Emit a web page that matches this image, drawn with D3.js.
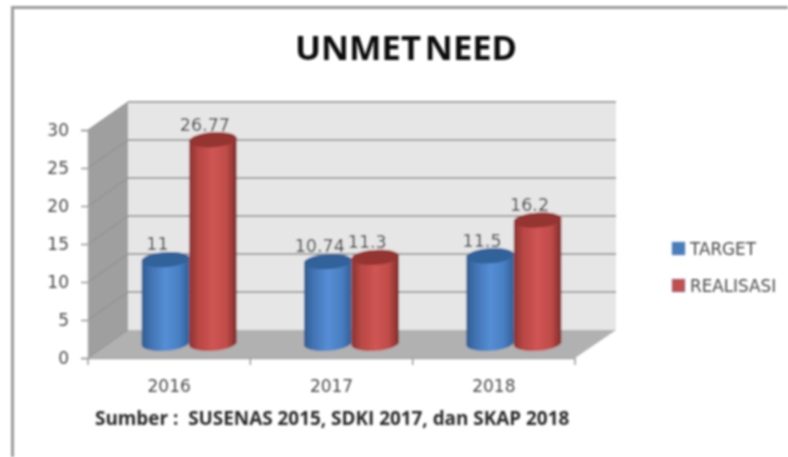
<!DOCTYPE html>
<html>
<head>
<meta charset="utf-8">
<title>UNMET NEED</title>
<script src="https://cdn.jsdelivr.net/npm/d3@7"></script>
<style>
  html, body { margin: 0; padding: 0; background: #fff; }
  svg { display: block; }
  text { font-family: "DejaVu Sans", sans-serif; }
</style>
</head>
<body>
<div id="chart"></div>
<script>
// data
const years = ["2016", "2017", "2018"];
const seriesNames = ["TARGET", "REALISASI"];
const target = [11, 10.74, 11.5];
const realisasi = [26.77, 11.3, 16.2];
const yTicks = [0, 5, 10, 15, 20, 25, 30];

const width = 788;
const height = 457;

// front plane of the 3d box, the back wall sits depth px right and up
const plot = { left: 88, right: 575, top: 130, bottom: 358 };
const depthX = 40;
const depthY = 28;

const svg = d3.select("#chart").append("svg")
  .attr("width", width)
  .attr("height", height);

const defs = svg.append("defs");

// the reference is a soft, upscaled picture (below 0.8 the browser applies no blur)
defs.append("filter").attr("id", "soft")
  .attr("x", "-5%").attr("y", "-5%").attr("width", "110%").attr("height", "110%")
  .append("feGaussianBlur").attr("stdDeviation", 0.8);

function cylinderGradient(id, stops) {
  const g = defs.append("linearGradient").attr("id", id);
  stops.forEach(s => g.append("stop").attr("offset", s[0]).attr("stop-color", s[1]));
}
cylinderGradient("blueBody", [[0, "#2f5c90"], [0.2, "#4273b3"], [0.5, "#558ed5"], [0.78, "#4a80c4"], [1, "#2f5f98"]]);
cylinderGradient("redBody", [[0, "#8a3230"], [0.2, "#b84744"], [0.5, "#cf5553"], [0.78, "#c04c49"], [1, "#7f2c2a"]]);

const topColor = { blue: "#32629a", red: "#953533" };
const seriesStyle = [
  { body: "url(#blueBody)", top: topColor.blue, swatch: "#4a7ebb" },
  { body: "url(#redBody)", top: topColor.red, swatch: "#c0504d" }
];

const root = svg.append("g").attr("filter", "url(#soft)");

// outer frame
root.append("path")
  .attr("d", "M12.5," + height + "V7.5H" + width)
  .attr("fill", "none")
  .attr("stroke", "#9c9c9c")
  .attr("stroke-width", 3);

const x = d3.scaleBand().domain(years).range([plot.left, plot.right]);
const xInner = d3.scaleBand().domain(seriesNames).range([0, x.step() * 0.585]);
const y = d3.scaleLinear().domain([0, 30]).range([plot.bottom, plot.top]);

// walls
root.append("polygon")
  .attr("points", [
    [plot.left + depthX, y(30) - depthY],
    [plot.right + depthX + 1, y(30) - depthY],
    [plot.right + depthX + 1, y(0) - depthY],
    [plot.left + depthX, y(0) - depthY]
  ].join(" "))
  .attr("fill", "#e6e6e6");

root.append("polygon")
  .attr("points", [
    [plot.left, y(30)],
    [plot.left + depthX, y(30) - depthY],
    [plot.left + depthX, y(0) - depthY],
    [plot.left, y(0)]
  ].join(" "))
  .attr("fill", "#9f9f9f");

root.append("polygon")
  .attr("points", [
    [plot.left, y(0)],
    [plot.right, y(0)],
    [plot.right + depthX + 1, y(0) - depthY],
    [plot.left + depthX, y(0) - depthY]
  ].join(" "))
  .attr("fill", "#b1b1b1");

// gridlines on back wall and left wall
root.selectAll(".grid").data(yTicks.slice(1)).join("line")
  .attr("class", "grid")
  .attr("x1", plot.left + depthX)
  .attr("x2", plot.right + depthX + 1)
  .attr("y1", d => y(d) - depthY)
  .attr("y2", d => y(d) - depthY)
  .attr("stroke", "#a0a0a0")
  .attr("stroke-width", 1.8);

root.selectAll(".gridSide").data(yTicks).join("line")
  .attr("class", "gridSide")
  .attr("x1", plot.left)
  .attr("x2", plot.left + depthX)
  .attr("y1", d => y(d))
  .attr("y2", d => y(d) - depthY)
  .attr("stroke", "#8c8c8c")
  .attr("stroke-width", 1);

// axes
const yAxis = d3.axisLeft(y).tickValues(yTicks).tickSize(7).tickPadding(12);
const gy = root.append("g")
  .attr("transform", "translate(" + plot.left + ",0)")
  .call(yAxis);

const xAxis = d3.axisBottom(x).tickSize(0).tickPadding(22);
const gx = root.append("g")
  .attr("transform", "translate(0," + plot.bottom + ")")
  .call(xAxis);

// category boundary ticks
gx.selectAll(".boundary").data(d3.range(years.length + 1)).join("line")
  .attr("class", "boundary")
  .attr("x1", i => plot.left + i * x.step())
  .attr("x2", i => plot.left + i * x.step())
  .attr("y1", 0)
  .attr("y2", 7)
  .attr("stroke", "#9a9a9a")
  .attr("stroke-width", 1.5);

[gx, gy].forEach(a => {
  a.select(".domain").attr("stroke", "#a6a6a6").attr("stroke-width", 1.5);
  a.selectAll(".tick line").attr("stroke", "#9a9a9a").attr("stroke-width", 1.5);
  a.selectAll("text").attr("font-size", 17).attr("fill", "#4a4a4a")
    .style("font-family", '"DejaVu Sans", sans-serif');
});

// cylinders
const barBase = y(0) - depthY / 2;
const rise = d => y(0) - y(d);
const ry = 7.5;
const tilt = -4;

function bodyPath(x0, w, top) {
  const rx = w / 2;
  return "M" + x0 + "," + top +
    "L" + x0 + "," + barBase +
    "A" + rx + "," + ry + " " + tilt + " 0 0 " + (x0 + w) + "," + (barBase - 1.5) +
    "L" + (x0 + w) + "," + (top - 1.5) +
    "A" + rx + "," + ry + " " + tilt + " 0 0 " + x0 + "," + top + "Z";
}

const barData = [];
years.forEach((yr, i) => {
  barData.push({ year: yr, name: seriesNames[0], value: target[i], s: 0 });
  barData.push({ year: yr, name: seriesNames[1], value: realisasi[i], s: 1 });
});

const groupLeft = yr => x(yr) + (x.step() - xInner.range()[1]) / 2 + depthX / 2;

const bars = root.selectAll(".bar").data(barData).join("g").attr("class", "bar");

bars.append("path")
  .attr("d", d => bodyPath(groupLeft(d.year) + xInner(d.name), xInner.bandwidth(), barBase - rise(d.value)))
  .attr("fill", d => seriesStyle[d.s].body);

bars.append("ellipse")
  .attr("cx", d => groupLeft(d.year) + xInner(d.name) + xInner.bandwidth() / 2)
  .attr("cy", d => barBase - rise(d.value) - 0.75)
  .attr("rx", xInner.bandwidth() / 2)
  .attr("ry", ry)
  .attr("transform", d => "rotate(" + tilt + " " +
    (groupLeft(d.year) + xInner(d.name) + xInner.bandwidth() / 2) + " " +
    (barBase - rise(d.value) - 0.75) + ")")
  .attr("fill", d => seriesStyle[d.s].top);

// value labels sit a bit left of each cylinder
bars.append("text")
  .attr("x", d => groupLeft(d.year) + xInner(d.name) + xInner.bandwidth() / 2 - 8)
  .attr("y", d => barBase - rise(d.value) - 10)
  .attr("text-anchor", "middle")
  .attr("font-size", 17.5)
  .attr("fill", "#303030")
  .text(d => d.value);

// legend
const legend = root.selectAll(".legend").data(seriesNames).join("g")
  .attr("class", "legend")
  .attr("transform", (d, i) => "translate(672," + (242 + i * 37) + ")");

legend.append("rect")
  .attr("width", 13)
  .attr("height", 13)
  .attr("fill", (d, i) => seriesStyle[i].swatch)
  .attr("stroke", "#7f9fc8")
  .attr("stroke-width", 0.5);

legend.append("text")
  .attr("x", 18)
  .attr("y", 12.5)
  .attr("font-size", 16.8)
  .attr("fill", "#484848")
  .text(d => d);

// title and source
root.append("text")
  .attr("x", 406)
  .attr("y", 60)
  .attr("text-anchor", "middle")
  .attr("font-size", 34.5)
  .attr("font-weight", 700)
  .attr("word-spacing", -5)
  .style("font-family", '"Open Sans", sans-serif')
  .attr("fill", "#111")
  .text("UNMET NEED");

root.append("text")
  .attr("x", 95)
  .attr("y", 425)
  .attr("font-size", 18.9)
  .attr("font-weight", 700)
  .style("font-family", '"Open Sans", sans-serif')
  .attr("fill", "#2a2a2a")
  .attr("xml:space", "preserve")
  .text("Sumber :  SUSENAS 2015, SDKI 2017, dan SKAP 2018");
</script>
</body>
</html>
